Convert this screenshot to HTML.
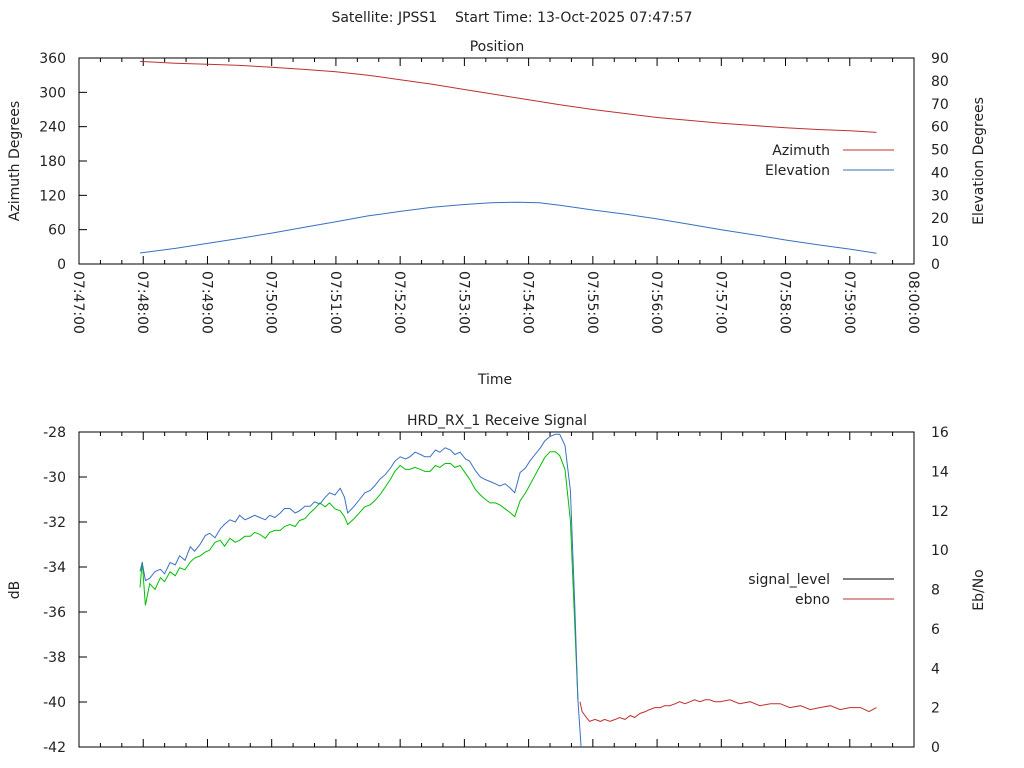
<!DOCTYPE html>
<html><head><meta charset="utf-8"><style>
body{margin:0;background:#fff}
svg{display:block;font-family:"DejaVu Sans","Liberation Sans",sans-serif;font-size:14px;fill:#222}
</style></head><body>
<svg id="c" width="1024" height="768" xmlns="http://www.w3.org/2000/svg">
<text x="512" y="22" text-anchor="middle" style="white-space:pre">Satellite: JPSS1    Start Time: 13-Oct-2025 07:47:57</text>
<text x="497" y="51" text-anchor="middle">Position</text>
<text x="497" y="425" text-anchor="middle">HRD_RX_1 Receive Signal</text>
<text x="495" y="384" text-anchor="middle">Time</text>
<text transform="translate(19,161) rotate(-90)" text-anchor="middle">Azimuth Degrees</text>
<text transform="translate(983,161) rotate(-90)" text-anchor="middle">Elevation Degrees</text>
<text transform="translate(19,590) rotate(-90)" text-anchor="middle">dB</text>
<text transform="translate(983,590) rotate(-90)" text-anchor="middle">Eb/No</text>
<g id="g"></g>
</svg>
<script>
// Top chart data (t = seconds after 07:47:00)
const azT=[57,90,120,150,180,210,240,270,300,330,360,390,420,450,480,510,540,570,600,630,660,690,720,745];
const azV=[354,351,349,347,344,340,336,330,322,314,305,296,287,278,270,263,256,251,246,242,238,235,233,230];
const elT=[57,90,120,150,180,210,240,270,300,330,360,385,410,430,450,480,510,540,570,600,630,660,690,720,745];
const elV=[4.8,6.8,9,11.2,13.5,16,18.5,21,23,24.8,26,26.8,27,26.8,25.6,23.6,21.8,19.7,17.4,15,12.8,10.5,8.4,6.5,4.7];
// Bottom chart
const sigT=[57,59,62,66,71,76,80,85,90,94,99,104,108,113,118,122,127,132,136,141,146,150,155,160,164,169,174,178,183,188,192,197,202,206,211,216,220,225,230,234,239,244,248,251,257,262,267,272,276,281,286,291,295,300,305,309,314,319,323,328,333,337,342,347,351,356,361,365,370,375,379,384,389,393,398,403,407,412,417,421,426,431,435,440,445,449,454,459,463,466,469];
const sigV=[-34.2,-33.8,-34.6,-34.5,-34.2,-34.1,-34.3,-33.8,-33.9,-33.5,-33.7,-33.1,-33.3,-33.0,-32.6,-32.5,-32.7,-32.3,-32.1,-31.9,-32.0,-31.7,-31.9,-31.8,-31.7,-31.8,-31.9,-31.7,-31.8,-31.6,-31.4,-31.4,-31.6,-31.5,-31.3,-31.3,-31.1,-31.2,-30.9,-30.7,-30.8,-30.5,-30.9,-31.6,-31.3,-31.0,-30.7,-30.6,-30.4,-30.1,-29.9,-29.6,-29.3,-29.1,-29.2,-29.1,-28.9,-29.0,-29.1,-29.1,-28.8,-28.9,-28.7,-28.8,-29.0,-28.9,-29.2,-29.3,-29.7,-30.0,-30.1,-30.2,-30.3,-30.4,-30.3,-30.5,-30.7,-29.8,-29.6,-29.3,-29.0,-28.7,-28.4,-28.2,-28.1,-28.1,-28.6,-30.6,-35.5,-39.9,-42.5];
const ebT=[57,59,62,66,71,76,80,85,90,94,99,104,108,113,118,122,127,132,136,141,146,150,155,160,164,169,174,178,183,188,192,197,202,206,211,216,220,225,230,234,239,244,248,251,257,262,267,272,276,281,286,291,295,300,305,309,314,319,323,328,333,337,342,347,351,356,361,365,370,375,379,384,389,393,398,403,407,412,417,421,426,431,435,440,445,449,454,459,463,466];
const ebV=[8.1,9.4,7.2,8.3,8.0,8.6,8.4,8.9,8.7,9.1,9.0,9.4,9.6,9.7,9.9,10.0,10.4,10.5,10.2,10.6,10.4,10.5,10.7,10.7,10.9,10.8,10.6,10.9,11.0,11.0,11.2,11.3,11.2,11.5,11.6,11.9,12.1,12.4,12.2,12.4,12.1,12.0,11.7,11.3,11.6,11.9,12.2,12.3,12.5,12.8,13.2,13.6,14.0,14.3,14.1,14.1,14.2,14.1,14.0,14.0,14.3,14.2,14.4,14.4,14.2,14.3,13.9,13.6,13.1,12.8,12.6,12.4,12.4,12.3,12.1,11.9,11.7,12.5,12.9,13.3,13.8,14.3,14.7,15.0,15.0,14.8,14.1,11.5,6.4,2.4];
const lossT=[468,470,474,477,482,487,491,496,501,505,510,515,519,524,529,533,538,543,547,552,557,561,566,571,575,580,585,589,594,599,608,617,627,636,646,655,664,674,683,692,702,711,720,730,738,745];
const lossV=[2.3,1.8,1.5,1.3,1.4,1.3,1.4,1.3,1.4,1.5,1.4,1.6,1.5,1.7,1.8,1.9,2.0,2.0,2.1,2.1,2.2,2.3,2.2,2.3,2.4,2.3,2.4,2.4,2.3,2.3,2.4,2.2,2.3,2.1,2.2,2.2,2.0,2.1,1.9,2.0,2.1,1.9,2.0,2.0,1.8,2.0];
const topYL=[0,60,120,180,240,300,360];
const topYR=[0,10,20,30,40,50,60,70,80,90];
const botYL=[-42,-40,-38,-36,-34,-32,-30,-28];
const botYR=[0,2,4,6,8,10,12,14,16];
const xTicks=['07:47:00','07:48:00','07:49:00','07:50:00','07:51:00','07:52:00','07:53:00','07:54:00','07:55:00','07:56:00','07:57:00','07:58:00','07:59:00','08:00:00'];

const NS='http://www.w3.org/2000/svg';
const G=document.getElementById('g');
function mk(tag,at,txt){const e=document.createElementNS(NS,tag);for(const k in at)e.setAttribute(k,at[k]);if(txt!=null)e.textContent=txt;G.appendChild(e);return e;}
const X0=79,X1=914;
const xs=t=>X0+t/780*(X1-X0);
const T0=58,T1=264,B0=432,B1=747;
const yAz=v=>T1-v/360*(T1-T0), yEl=v=>T1-v/90*(T1-T0);
const yDb=v=>B1-(v+42)/14*(B1-B0), yEb=v=>B1-v/16*(B1-B0);

function frame(y0,y1,name){
  const r=mk('rect',{x:X0,y:y0,width:X1-X0,height:y1-y0,fill:'none',stroke:'#000','stroke-width':1});
  
  
  for(let s=0;s<=780;s+=20){const x=xs(s),L=s%60==0?8:4;
    mk('line',{x1:x,y1:y1,x2:x,y2:y1-L,stroke:'#000'});
    mk('line',{x1:x,y1:y0,x2:x,y2:y0+L,stroke:'#000'});}
}
frame(T0,T1,'position-plot-frame');
frame(B0,B1,'signal-plot-frame');

topYL.forEach(v=>{const y=yAz(v);mk('line',{x1:X0,y1:y,x2:X0+8,y2:y,stroke:'#000'});
  const t=mk('text',{x:66,y:y+5,'text-anchor':'end'},v);
  
  });
topYR.forEach(v=>{const y=yEl(v);
  const t=mk('text',{x:931,y:y+5},v);
  
  });
botYL.forEach(v=>{const y=yDb(v);mk('line',{x1:X0,y1:y,x2:X0+8,y2:y,stroke:'#000'});
  const t=mk('text',{x:66,y:y+5,'text-anchor':'end'},v);
  
  });
botYR.forEach(v=>{const y=yEb(v);
  const t=mk('text',{x:931,y:y+5},v);
  
  });
xTicks.forEach((s,i)=>{const x=xs(i*60);
  const t=mk('text',{transform:`translate(${x-5},271) rotate(90)`},s);
  
  });

function line(T,V,fx,fy,col,name){
  const d=T.map((t,i)=>(i?'L':'M')+fx(t).toFixed(1)+','+fy(V[i]).toFixed(1)).join('');
  const p=mk('path',{d:d,fill:'none',stroke:col,'stroke-width':1});
  
  
}
line(azT,azV,xs,yAz,'#c03030','azimuth-line');
line(elT,elV,xs,yEl,'#3a70c0','elevation-line');
line(lossT,lossV,xs,yEb,'#c03030','ebno-line-lost');
line(ebT,ebV,xs,yEb,'#00c000','ebno-line');
line(sigT,sigV,xs,v=>Math.min(yDb(v),B1),'#3a70c0','signal-level-line');

function legend(y,label,col,name){
  const t=mk('text',{x:830,y:y+5,'text-anchor':'end'},label);
  
  
  const l=mk('line',{x1:843,y1:y,x2:894,y2:y,stroke:col});
  
  
}
legend(150,'Azimuth','#c03030','legend-azimuth');
legend(170,'Elevation','#3a70c0','legend-elevation');
legend(579,'signal_level','#000','legend-signal-level');
legend(599,'ebno','#c03030','legend-ebno');
</script>
</body></html>
